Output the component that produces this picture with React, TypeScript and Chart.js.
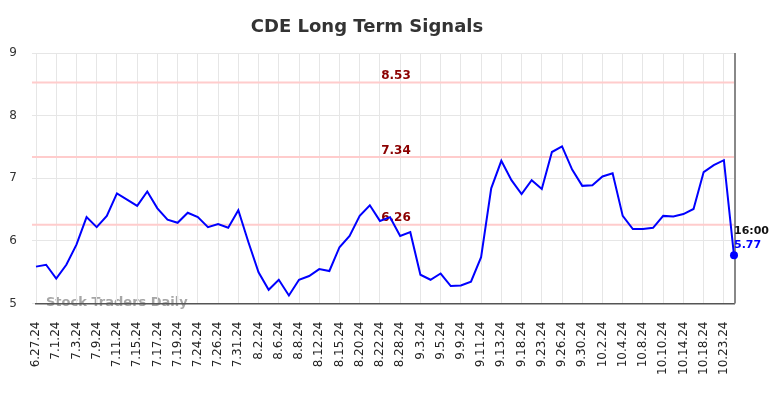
import React, { useEffect, useRef } from "react";
import { Chart, registerables } from "chart.js";

Chart.register(...registerables);

const dates: string[] = [
  "6.27.24", "6.28.24", "7.1.24", "7.2.24", "7.3.24", "7.8.24", "7.9.24", "7.10.24", "7.11.24", "7.12.24",
  "7.15.24", "7.16.24", "7.17.24", "7.18.24", "7.19.24", "7.23.24", "7.24.24", "7.25.24", "7.26.24", "7.30.24",
  "7.31.24", "8.1.24", "8.2.24", "8.5.24", "8.6.24", "8.7.24", "8.8.24", "8.9.24", "8.12.24", "8.14.24",
  "8.15.24", "8.19.24", "8.20.24", "8.21.24", "8.22.24", "8.26.24", "8.28.24", "8.30.24", "9.3.24", "9.4.24",
  "9.5.24", "9.6.24", "9.9.24", "9.10.24", "9.11.24", "9.12.24", "9.13.24", "9.17.24", "9.18.24", "9.20.24",
  "9.23.24", "9.25.24", "9.26.24", "9.27.24", "9.30.24", "10.1.24", "10.2.24", "10.3.24", "10.4.24", "10.7.24",
  "10.8.24", "10.9.24", "10.10.24", "10.11.24", "10.14.24", "10.16.24", "10.18.24", "10.21.24", "10.23.24", "10.24.24",
];

const prices: number[] = [
  5.59, 5.62, 5.40, 5.62, 5.94, 6.38, 6.22, 6.40, 6.76, 6.66,
  6.56, 6.79, 6.52, 6.34, 6.29, 6.45, 6.38, 6.22, 6.27, 6.21,
  6.49, 5.98, 5.50, 5.22, 5.38, 5.13, 5.38, 5.44, 5.55, 5.52,
  5.90, 6.08, 6.40, 6.57, 6.32, 6.38, 6.08, 6.14, 5.46, 5.38,
  5.48, 5.28, 5.29, 5.35, 5.74, 6.84, 7.28, 6.97, 6.75, 6.97,
  6.83, 7.42, 7.51, 7.14, 6.88, 6.89, 7.03, 7.08, 6.40, 6.19,
  6.19, 6.21, 6.40, 6.39, 6.43, 6.51, 7.10, 7.21, 7.29, 5.77,
];

const signalLevels: number[] = [8.53, 7.34, 6.26];
const yTicks: number[] = [5, 6, 7, 8, 9];
const lastTime = "16:00";
const titleText = "CDE Long Term Signals";
const watermarkText = "Stock Traders Daily";

const FONT = "'DejaVu Sans', sans-serif";

const overlayPlugin = {
  id: "overlay",
  beforeDraw(chart: any) {
    const { ctx, chartArea } = chart;
    ctx.save();
    ctx.font = `bold 13px ${FONT}`;
    ctx.fillStyle = "#a6a6a6";
    ctx.textAlign = "left";
    ctx.textBaseline = "middle";
    ctx.fillText(watermarkText, chartArea.left + 10, chartArea.bottom - 1);
    ctx.restore();
  },
  beforeDatasetsDraw(chart: any) {
    const { ctx, chartArea, scales } = chart;
    const y = scales.y;
    const x = scales.x;
    ctx.save();
    ctx.strokeStyle = "#ffcccc";
    ctx.lineWidth = 2;
    signalLevels.forEach((v) => {
      const py = y.getPixelForValue(v);
      ctx.beginPath();
      ctx.moveTo(chartArea.left - 4, py);
      ctx.lineTo(chartArea.right + 2, py);
      ctx.stroke();
    });
    ctx.font = `bold 12px ${FONT}`;
    ctx.fillStyle = "#8b0000";
    ctx.textAlign = "center";
    ctx.textBaseline = "alphabetic";
    const cx = (chartArea.left + chartArea.right) / 2 + 11;
    signalLevels.forEach((v) => {
      const py = y.getPixelForValue(v);
      ctx.fillText(v.toFixed(2), cx, py - 3.5);
    });
    const lx = x.getPixelForValue(prices.length - 1);
    ctx.strokeStyle = "#888888";
    ctx.lineWidth = 2;
    ctx.beginPath();
    ctx.moveTo(lx + 1, chartArea.top);
    ctx.lineTo(lx + 1, chartArea.bottom);
    ctx.stroke();
    ctx.restore();
  },
  afterDatasetsDraw(chart: any) {
    const { ctx, scales } = chart;
    const last = prices.length - 1;
    const px = scales.x.getPixelForValue(last);
    const py = scales.y.getPixelForValue(prices[last]);
    ctx.save();
    ctx.textAlign = "left";
    ctx.textBaseline = "middle";
    ctx.font = `bold 11px ${FONT}`;
    ctx.fillStyle = "#111111";
    ctx.fillText(lastTime, px, py - 24);
    ctx.fillStyle = "#0000ff";
    ctx.fillText(prices[last].toFixed(2), px, py - 10);
    ctx.restore();
  },
};

export default function App() {
  const canvasRef = useRef<HTMLCanvasElement | null>(null);

  useEffect(() => {
    document.body.style.margin = "0";
    const canvas = canvasRef.current;
    if (!canvas) return;
    Chart.defaults.font.family = FONT;
    const last = prices.length - 1;
    const chart = new Chart(canvas, {
      type: "line",
      data: {
        labels: dates,
        datasets: [
          {
            data: prices,
            borderColor: "#0000ff",
            borderWidth: 2,
            tension: 0,
            fill: false,
            pointRadius: (c: any) => (c.dataIndex === last ? 4 : 0),
            pointBackgroundColor: "#0000ff",
            pointBorderWidth: 0,
            pointHoverRadius: 0,
          },
        ],
      },
      options: {
        animation: false,
        responsive: false,
        events: [],
        layout: { padding: { left: 0, right: 50, top: 7, bottom: 5 } },
        plugins: {
          legend: { display: false },
          tooltip: { enabled: false },
          title: {
            display: true,
            text: titleText,
            color: "#333333",
            font: { size: 18, weight: "bold", family: FONT },
            padding: { top: 10, bottom: 14.5 },
          },
        },
        scales: {
          x: {
            type: "category",
            afterBuildTicks: (scale: any) => {
              scale.ticks = scale.ticks.filter((_t: any, i: number) => i % 2 === 0);
            },
            grid: { color: "#e6e6e6", drawTicks: false, lineWidth: 1 },
            border: { display: true, color: "#555555", width: 1.5 },
            ticks: {
              autoSkip: false,
              minRotation: 90,
              maxRotation: 90,
              padding: 18,
              color: "#222222",
              font: { size: 12, family: FONT },
            },
          },
          y: {
            min: yTicks[0],
            max: yTicks[yTicks.length - 1],
            afterBuildTicks: (scale: any) => {
              scale.ticks = yTicks.map((v) => ({ value: v }));
            },
            afterFit: (scale: any) => {
              scale.width = 36;
            },
            grid: { color: "#e6e6e6", tickLength: 4, lineWidth: 1 },
            border: { display: false },
            ticks: {
              padding: 15,
              color: "#333333",
              font: { size: 12, family: FONT },
            },
          },
        },
      },
      plugins: [overlayPlugin],
    } as any);
    return () => chart.destroy();
  }, []);

  return (
    <canvas
      ref={canvasRef}
      width={784}
      height={398}
      style={{ display: "block", width: 784, height: 398 }}
    />
  );
}
